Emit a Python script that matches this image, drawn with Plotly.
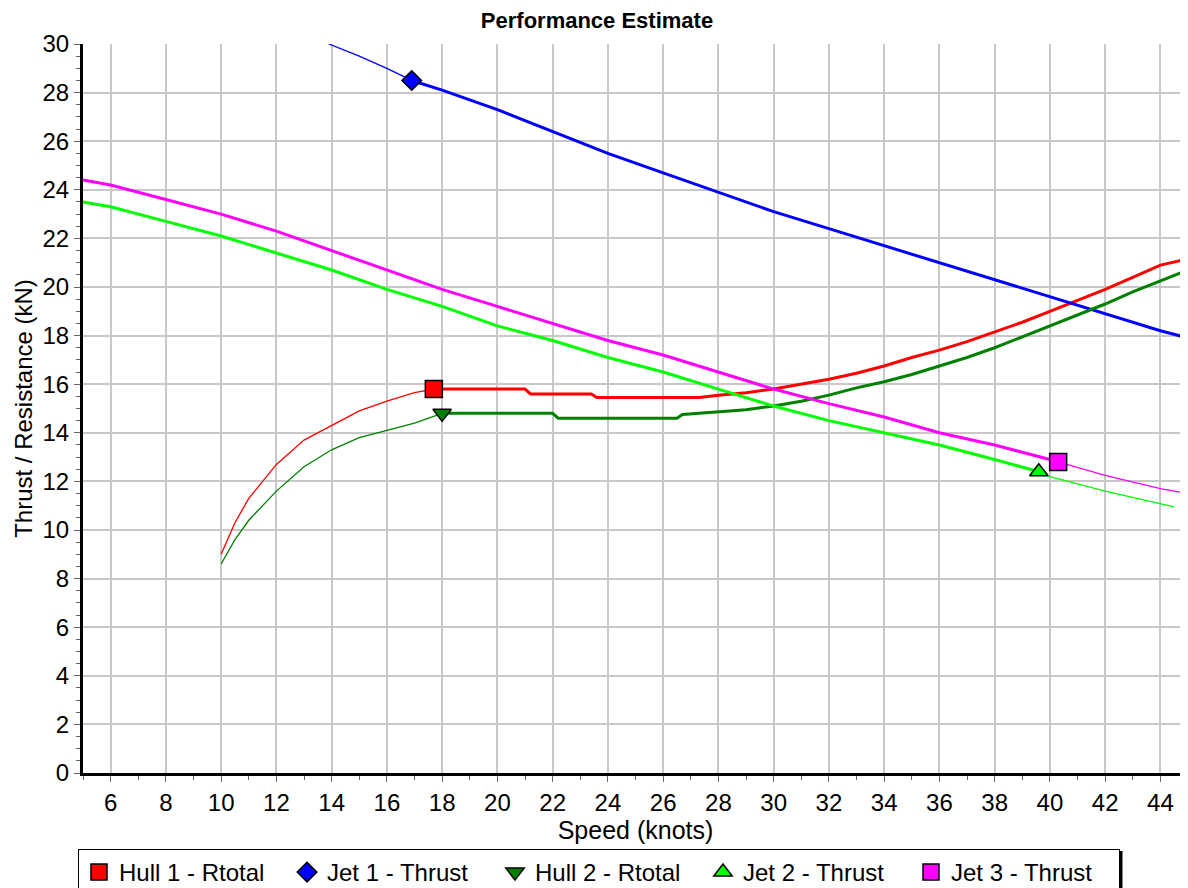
import plotly.graph_objects as go

# ---------------- data ----------------
hull1_speed = [10, 10.5, 11, 11.5, 12, 13, 14, 15, 16, 17, 17.7, 19, 21, 21.2, 23.4, 23.6, 27.3, 28, 29, 30, 31, 32, 33, 34, 35, 36, 37, 38, 39, 40, 41, 42, 43, 44, 45]
hull1_value = [9.0, 10.3, 11.3, 12.0, 12.7, 13.7, 14.3, 14.9, 15.3, 15.65, 15.8, 15.8, 15.8, 15.6, 15.6, 15.45, 15.45, 15.55, 15.65, 15.8, 16.0, 16.2, 16.45, 16.75, 17.1, 17.4, 17.75, 18.15, 18.55, 19.0, 19.45, 19.9, 20.4, 20.9, 21.15]
hull1_split = 10

hull2_speed = [10, 10.5, 11, 11.5, 12, 13, 14, 15, 16, 17, 18, 20, 22, 22.2, 26.5, 26.7, 28, 29, 30, 31, 32, 33, 34, 35, 36, 37, 38, 39, 40, 41, 42, 43, 44, 45]
hull2_value = [8.6, 9.6, 10.4, 11.0, 11.6, 12.6, 13.3, 13.8, 14.1, 14.4, 14.8, 14.8, 14.8, 14.6, 14.6, 14.75, 14.85, 14.95, 15.1, 15.3, 15.55, 15.85, 16.1, 16.4, 16.75, 17.1, 17.5, 17.95, 18.4, 18.85, 19.3, 19.8, 20.25, 20.7]
hull2_split = 10

jet1_speed = [13.9, 15, 16, 16.9, 18, 20, 22, 24, 26, 28, 30, 32, 34, 36, 38, 40, 42, 44, 45]
jet1_value = [30.0, 29.5, 29.0, 28.5, 28.1, 27.3, 26.4, 25.5, 24.7, 23.9, 23.1, 22.4, 21.7, 21.0, 20.3, 19.6, 18.9, 18.2, 17.9]
jet1_split = 3

jet2_speed = [5, 6, 8, 10, 12, 14, 16, 18, 20, 22, 24, 26, 28, 30, 32, 34, 36, 38, 39.6, 40, 42, 44, 44.5]
jet2_value = [23.5, 23.3, 22.7, 22.1, 21.4, 20.7, 19.9, 19.2, 18.4, 17.8, 17.1, 16.5, 15.8, 15.1, 14.5, 14.0, 13.5, 12.9, 12.4, 12.2, 11.6, 11.1, 10.95]
jet2_split = 18

jet3_speed = [5, 6, 8, 10, 12, 14, 16, 18, 20, 22, 24, 26, 28, 30, 32, 34, 36, 38, 40, 40.3, 42, 44, 45]
jet3_value = [24.4, 24.2, 23.6, 23.0, 22.3, 21.5, 20.7, 19.9, 19.2, 18.5, 17.8, 17.2, 16.5, 15.8, 15.2, 14.65, 14.0, 13.5, 12.9, 12.8, 12.25, 11.7, 11.5]
jet3_split = 19

series_names = ["Hull 1 - Rtotal", "Jet 1 - Thrust", "Hull 2 - Rtotal", "Jet 2 - Thrust", "Jet 3 - Thrust"]
x_ticks = [6, 8, 10, 12, 14, 16, 18, 20, 22, 24, 26, 28, 30, 32, 34, 36, 38, 40, 42, 44]
y_ticks = [0, 2, 4, 6, 8, 10, 12, 14, 16, 18, 20, 22, 24, 26, 28, 30]

# ---------------- styling ----------------
FONT = "Liberation Sans, Arial, sans-serif"
THIN, THICK = 1.3, 3
series = [
    # name, speed, value, split index, color, symbol, marker size, thick part after marker?
    (series_names[0], hull1_speed, hull1_value, hull1_split, "#FF0000", "square", 17, True),
    (series_names[1], jet1_speed, jet1_value, jet1_split, "#0000FF", "diamond", 15, True),
    (series_names[2], hull2_speed, hull2_value, hull2_split, "#008000", "triangle-down", 16, True),
    (series_names[3], jet2_speed, jet2_value, jet2_split, "#00FF00", "triangle-up", 16, False),
    (series_names[4], jet3_speed, jet3_value, jet3_split, "#FF00FF", "square", 17, False),
]

fig = go.Figure()
for name, xs, ys, k, color, sym, msize, thick_after in series:
    first_w, second_w = (THIN, THICK) if thick_after else (THICK, THIN)
    fig.add_trace(go.Scatter(x=xs[:k + 1], y=ys[:k + 1], mode="lines",
                             line=dict(color=color, width=first_w), showlegend=False, hoverinfo="skip"))
    fig.add_trace(go.Scatter(x=xs[k:], y=ys[k:], mode="lines",
                             line=dict(color=color, width=second_w), showlegend=False, hoverinfo="skip"))
for name, xs, ys, k, color, sym, msize, thick_after in series:
    fig.add_trace(go.Scatter(x=[xs[k]], y=[ys[k]], mode="markers", name=name,
                             marker=dict(symbol=sym, size=msize, color=color,
                                         line=dict(color="black", width=1.5)),
                             showlegend=True))

# the page body adds an 8px offset, so the figure is 1180x880
W, H = 1180, 880
L, T, B = 75, 36, 115
plot_w, plot_h = W - L, H - T - B

legend_top_px = 79 - 3          # below the plot area
legend_right_px = 1121 - 8      # figure px of the legend's right edge (shadow)

fig.update_layout(
    width=W, height=H,
    margin=dict(l=L, r=0, t=T, b=B, autoexpand=False),
    paper_bgcolor="white", plot_bgcolor="white",
    font=dict(family=FONT, size=24, color="black"),
    title=dict(text="<b>Performance Estimate</b>", x=(597 - 8) / W, xanchor="center",
               y=1 - 12 / H, yanchor="middle", yref="container",
               font=dict(family=FONT, size=22, color="black")),
    showlegend=True,
    legend=dict(orientation="h", x=-5 / plot_w, xanchor="left", y=-legend_top_px / plot_h, yanchor="top",
                bgcolor="white", bordercolor="black", borderwidth=1,
                font=dict(family=FONT, size=24, color="black"),
                entrywidth=163, entrywidthmode="pixels",
                itemsizing="trace", traceorder="normal"),
    shapes=[dict(type="line", xref="paper", yref="paper",
                 x0=(legend_right_px - L) / plot_w, x1=(legend_right_px - L) / plot_w,
                 y0=-(legend_top_px + 2) / plot_h, y1=-(legend_top_px + 60) / plot_h,
                 line=dict(color="black", width=3))],
)
fig.update_xaxes(
    range=[5, 45], tickvals=x_ticks, ticktext=[str(v) for v in x_ticks],
    showgrid=True, gridcolor="#c8c8c8", gridwidth=1.5,
    showline=True, linecolor="black", linewidth=3, mirror=False,
    ticks="outside", ticklen=6, tickcolor="#666666", tickwidth=1,
    minor=dict(tickvals=list(range(5, 46)), ticks="outside", ticklen=4, tickcolor="#666666", showgrid=False),
    tickfont=dict(size=24), zeroline=False, automargin=False,
    title=dict(text="Speed (knots)", font=dict(size=25), standoff=2),
)
fig.update_yaxes(
    range=[0, 30], tickvals=y_ticks, ticktext=[str(v) for v in y_ticks],
    showgrid=True, gridcolor="#c8c8c8", gridwidth=1.5,
    showline=True, linecolor="black", linewidth=3, mirror=False,
    ticks="outside", ticklen=6, tickcolor="#666666", tickwidth=1,
    minor=dict(dtick=0.5, ticks="outside", ticklen=4, tickcolor="#666666", showgrid=False),
    tickfont=dict(size=24), zeroline=False, automargin=False,
    title=dict(text="Thrust / Resistance (kN)", font=dict(size=24), standoff=4),
)

fig.write_html("out.html")
